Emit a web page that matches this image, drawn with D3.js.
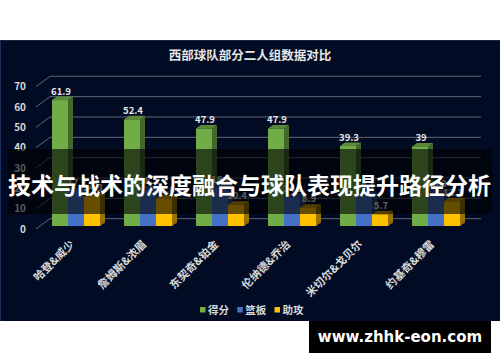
<!DOCTYPE html>
<html>
<head>
<meta charset="utf-8">
<script src="https://cdn.jsdelivr.net/npm/d3@7"></script>
<style>
  html, body { margin: 0; padding: 0; background: #fff; }
  svg { display: block; }
  text { font-family: "Noto Sans CJK SC", sans-serif; font-weight: 700; }
</style>
</head>
<body>
<script>
// 数据
let categories = ['哈登&威少', '詹姆斯&浓眉', '东契奇&铂金', '伦纳德&乔治', '米切尔&戈贝尔', '约基奇&穆雷']
let seriesNames = ['得分', '篮板', '助攻']
let scoreValues = [61.9, 52.4, 47.9, 47.9, 39.3, 39]
let reboundValues = [17.2, 18.1, 18.6, 14.2, 15.1, 16.3]
let assistValues = [14.3, 13.6, 10.4, 8.9, 5.7, 12.1]
let yTicks = [0, 10, 20, 30, 40, 50, 60, 70]
let seriesValues = [scoreValues, reboundValues, assistValues]

let frontColors = ['#70ad47', '#4472c4', '#ffc000']
let sideColors = ['#43682b', '#294578', '#997300']
let topColors = ['#5a8a39', '#365b9d', '#cc9a00']

let width = 500
let height = 362
// 立体柱的进深
let depthX = 5
let depthY = 3.6
// 背景墙相对柱底的偏移
let wallDy = 7.3

let svg = d3.select('body')
  .append('svg')
  .attr('width', width)
  .attr('height', height)

// 深色底
svg.append('rect').attr('x', 0).attr('y', 40).attr('width', 500).attr('height', 281).attr('fill', '#010c24')
svg.append('rect').attr('x', 0).attr('y', 40).attr('width', 1).attr('height', 281).attr('fill', '#1d2f58')
svg.append('rect').attr('x', 0).attr('y', 40).attr('width', 500).attr('height', 1).attr('fill', '#142445')

// 比例尺
let xScale = d3.scaleBand().domain(categories).range([40, 472]).paddingInner(1 / 3).paddingOuter(1 / 6)
let xInner = d3.scaleBand().domain(seriesNames).range([0, xScale.bandwidth()])
let yScale = d3.scaleLinear().domain([0, 70]).range([226, 83.6])

// 标题
svg.append('text')
  .attr('x', 250)
  .attr('y', 60)
  .attr('text-anchor', 'middle')
  .attr('font-size', 12.5)
  .attr('fill', '#e6e6e6')
  .text('西部球队部分二人组数据对比')

// 网格线
let grid = svg.append('g')
yTicks.forEach(v => {
  let yWall = yScale(v) - wallDy
  grid.append('path')
    .attr('d', d3.line()([[36, yWall + 10.3], [50, yWall], [481, yWall]]))
    .attr('fill', 'none')
    .attr('stroke', '#5f6675')
    .attr('stroke-width', 1)
})

// y轴文字
let yAxis = d3.axisLeft(yScale).tickValues(yTicks).tickSize(0).tickPadding(0)
let yAxisG = svg.append('g')
  .attr('transform', 'translate(26,3)')
  .call(yAxis)
yAxisG.select('.domain').remove()
yAxisG.selectAll('text')
  .attr('font-size', 10)
  .attr('fill', '#d9d9d9')
  .style('font-family', '"Noto Sans CJK SC", sans-serif')

// x轴文字
let xAxis = d3.axisBottom(xScale).tickSize(0).tickPadding(0)
let xAxisG = svg.append('g')
  .attr('transform', 'translate(0,240)')
  .call(xAxis)
xAxisG.select('.domain').remove()
xAxisG.selectAll('text')
  .attr('text-anchor', 'end')
  .attr('font-size', 11)
  .attr('fill', '#d9d9d9')
  .attr('dy', 0)
  .attr('y', 0)
  .attr('transform', 'translate(-1,5) rotate(-45)')
  .style('font-family', '"Noto Sans CJK SC", sans-serif')

// 立体柱
let polygon = d3.line()
seriesNames.forEach((name, s) => {
  let g = svg.append('g')
  categories.forEach((c, i) => {
    let v = seriesValues[s][i]
    let x0 = xScale(c) + xInner(name)
    let x1 = x0 + xInner.bandwidth()
    let y0 = yScale(0)
    let y1 = yScale(v)
    g.append('path')
      .attr('d', polygon([[x1, y0], [x1 + depthX, y0 - depthY], [x1 + depthX, y1 - depthY], [x1, y1]]) + 'Z')
      .attr('fill', sideColors[s])
    g.append('path')
      .attr('d', polygon([[x0, y1], [x0 + depthX, y1 - depthY], [x1 + depthX, y1 - depthY], [x1, y1]]) + 'Z')
      .attr('fill', topColors[s])
    g.append('rect')
      .attr('x', x0)
      .attr('y', y1)
      .attr('width', x1 - x0)
      .attr('height', y0 - y1)
      .attr('fill', frontColors[s])
    g.append('text')
      .attr('x', (x0 + x1) / 2 + 1)
      .attr('y', y1 - 5.5)
      .attr('text-anchor', 'middle')
      .attr('font-size', 9.5)
      .attr('fill', '#e8e8e8')
      .text(v)
  })
})

// 图例
let legendX = d3.scalePoint().domain(seriesNames).range([200, 274.5])
seriesNames.forEach((name, s) => {
  svg.append('rect')
    .attr('x', legendX(name))
    .attr('y', 307)
    .attr('width', 5.5)
    .attr('height', 5.5)
    .attr('fill', frontColors[s])
  svg.append('text')
    .attr('x', legendX(name) + 8)
    .attr('y', 314)
    .attr('font-size', 10.5)
    .attr('fill', '#d9d9d9')
    .text(name)
})

// 文章标题遮罩
svg.append('rect')
  .attr('x', 8)
  .attr('y', 149)
  .attr('width', 484)
  .attr('height', 65)
  .attr('fill', '#000')
  .attr('fill-opacity', 0.6)
svg.append('text')
  .attr('x', 249.5)
  .attr('y', 194)
  .attr('text-anchor', 'middle')
  .attr('font-size', 23)
  .attr('fill', '#fff')
  .text('技术与战术的深度融合与球队表现提升路径分析')

// 网址
svg.append('rect')
  .attr('x', 309)
  .attr('y', 321)
  .attr('width', 182)
  .attr('height', 32)
  .attr('fill', '#000')
svg.append('text')
  .attr('x', 400)
  .attr('y', 342)
  .attr('text-anchor', 'middle')
  .attr('font-size', 15)
  .attr('fill', '#fff')
  .style('font-family', '"DejaVu Sans", sans-serif')
  .text('www.zhhk-eon.com')
</script>
</body>
</html>
